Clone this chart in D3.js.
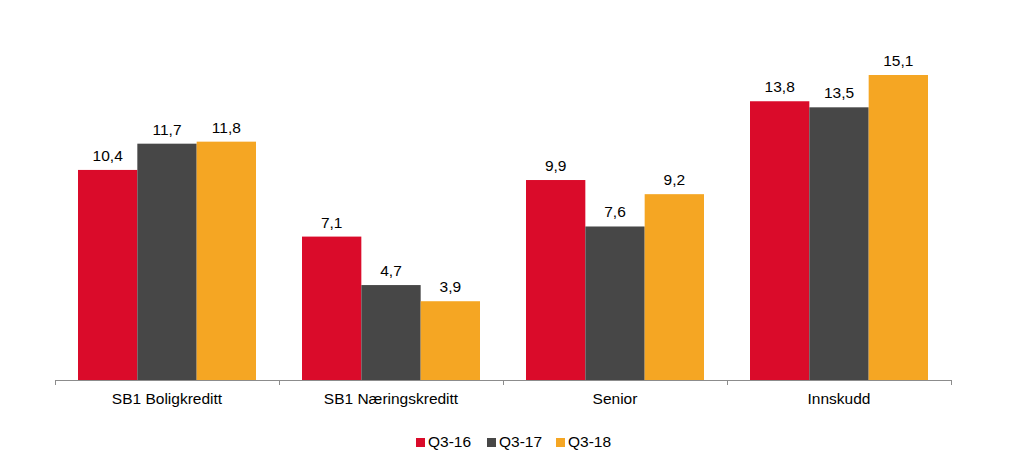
<!DOCTYPE html>
<html><head><meta charset="utf-8">
<script src="https://cdn.jsdelivr.net/npm/d3@7"></script>
<style>body{margin:0;background:#fff;font-family:"Liberation Sans",Arial,sans-serif}</style>
</head><body>
<svg id="c" width="1023" height="467"></svg>
<script>
const categories = ["SB1 Boligkreditt","SB1 Næringskreditt","Senior","Innskudd"];
const seriesNames = ["Q3-16","Q3-17","Q3-18"];
const q316 = [10.4, 7.1, 9.9, 13.8];
const q317 = [11.7, 4.7, 7.6, 13.5];
const q318 = [11.8, 3.9, 9.2, 15.1];
const colors = ["#DA0B2A","#474747","#F5A623"];
const series = [q316, q317, q318];

const svg = d3.select("#c");
const x0 = d3.scaleBand().domain(categories).range([55, 951]).paddingInner(0).paddingOuter(0);
const x1 = d3.scaleBand().domain(seriesNames).range([23, x0.bandwidth()-23]).padding(0);
const y = d3.scaleLinear().domain([0, 15.1]).range([380, 75]);
const fmt = v => d3.format(".1f")(v).replace(".", ",");
const FS = 15.5;

const g = svg.append("g");
categories.forEach((c, ci) => {
  seriesNames.forEach((s, si) => {
    const v = series[si][ci];
    g.append("rect").attr("x", x0(c)+x1(s)).attr("y", y(v))
      .attr("width", x1.bandwidth()).attr("height", y(0)-y(v)).attr("fill", colors[si]);
    g.append("text").attr("x", x0(c)+x1(s)+x1.bandwidth()/2).attr("y", y(v)-9)
      .attr("text-anchor","middle").attr("font-size",FS).attr("fill","#000").text(fmt(v));
  });
});

// axis
const ax = svg.append("g");
ax.append("line").attr("x1",55).attr("x2",951).attr("y1",380.5).attr("y2",380.5).attr("stroke","#8c8c8c");
const tickPos = categories.map(c => x0(c)).concat([x0.range()[1]]);
tickPos.forEach(t => ax.append("line").attr("x1",t+0.5).attr("x2",t+0.5).attr("y1",380).attr("y2",385).attr("stroke","#8c8c8c"));
categories.forEach(c => ax.append("text").attr("x", x0(c)+x0.bandwidth()/2).attr("y", 404)
  .attr("text-anchor","middle").attr("font-size",FS).attr("fill","#000").text(c));

// legend
const legX = [416, 487, 556];
seriesNames.forEach((s, i) => {
  svg.append("rect").attr("x", legX[i]).attr("y", 438).attr("width", 9).attr("height", 9).attr("fill", colors[i]);
  svg.append("text").attr("x", legX[i]+12).attr("y", 447).attr("font-size",FS).attr("fill","#000").text(s);
});
</script>
</body></html>
